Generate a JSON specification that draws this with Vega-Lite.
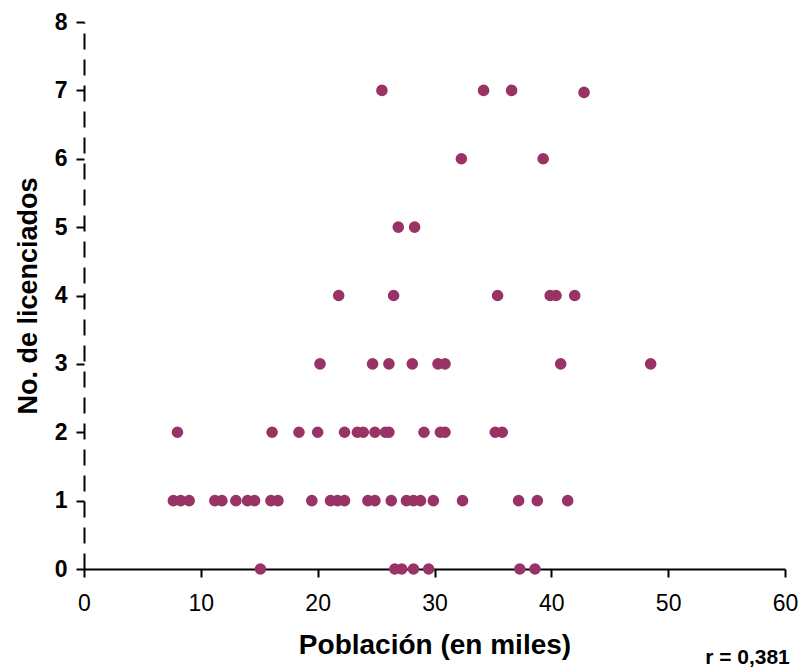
{
  "$schema": "https://vega.github.io/schema/vega-lite/v6.json",
  "width": 701,
  "height": 547,
  "autosize": {"type": "none"},
  "padding": {"left": 84, "top": 22, "right": 16, "bottom": 98},
  "background": "white",
  "config": {"view": {"stroke": null}, "font": "Liberation Sans"},
  "title": {"text": "r = 0,381", "orient": "bottom", "anchor": "end", "fontSize": 21, "fontWeight": "bold", "font": "Liberation Sans", "color": "black", "offset": -12, "dx": -8},
  "data": {"values": [
    {"pob": 25.5, "lic": 7}, {"pob": 34.2, "lic": 7}, {"pob": 36.6, "lic": 7}, {"pob": 42.8, "lic": 6.97},
    {"pob": 32.3, "lic": 6}, {"pob": 39.3, "lic": 6},
    {"pob": 26.9, "lic": 5}, {"pob": 28.3, "lic": 5},
    {"pob": 21.8, "lic": 4}, {"pob": 26.5, "lic": 4}, {"pob": 35.4, "lic": 4}, {"pob": 39.9, "lic": 4}, {"pob": 40.4, "lic": 4}, {"pob": 42.0, "lic": 4},
    {"pob": 20.2, "lic": 3}, {"pob": 24.7, "lic": 3}, {"pob": 26.1, "lic": 3}, {"pob": 28.1, "lic": 3}, {"pob": 30.3, "lic": 3}, {"pob": 30.9, "lic": 3}, {"pob": 40.8, "lic": 3}, {"pob": 48.5, "lic": 3},
    {"pob": 8.0, "lic": 2}, {"pob": 16.1, "lic": 2}, {"pob": 18.4, "lic": 2}, {"pob": 20.0, "lic": 2}, {"pob": 22.3, "lic": 2}, {"pob": 23.4, "lic": 2}, {"pob": 23.9, "lic": 2}, {"pob": 24.9, "lic": 2}, {"pob": 25.8, "lic": 2}, {"pob": 26.1, "lic": 2}, {"pob": 29.1, "lic": 2}, {"pob": 30.5, "lic": 2}, {"pob": 30.9, "lic": 2}, {"pob": 35.2, "lic": 2}, {"pob": 35.8, "lic": 2},
    {"pob": 7.65, "lic": 1}, {"pob": 8.28, "lic": 1}, {"pob": 9.0, "lic": 1}, {"pob": 11.2, "lic": 1}, {"pob": 11.8, "lic": 1}, {"pob": 13.0, "lic": 1}, {"pob": 14.0, "lic": 1}, {"pob": 14.6, "lic": 1}, {"pob": 16.0, "lic": 1}, {"pob": 16.6, "lic": 1},
    {"pob": 19.5, "lic": 1}, {"pob": 21.1, "lic": 1}, {"pob": 21.7, "lic": 1}, {"pob": 22.3, "lic": 1}, {"pob": 24.3, "lic": 1}, {"pob": 24.9, "lic": 1}, {"pob": 26.3, "lic": 1}, {"pob": 27.6, "lic": 1}, {"pob": 28.2, "lic": 1}, {"pob": 28.8, "lic": 1}, {"pob": 29.9, "lic": 1}, {"pob": 32.4, "lic": 1}, {"pob": 37.2, "lic": 1}, {"pob": 38.8, "lic": 1}, {"pob": 41.4, "lic": 1},
    {"pob": 15.1, "lic": 0}, {"pob": 26.6, "lic": 0}, {"pob": 27.2, "lic": 0}, {"pob": 28.2, "lic": 0}, {"pob": 29.5, "lic": 0}, {"pob": 37.3, "lic": 0}, {"pob": 38.6, "lic": 0}
  ]},
  "mark": {"type": "circle", "color": "#993366", "opacity": 1, "size": 135, "clip": false},
  "encoding": {
    "x": {"field": "pob", "type": "quantitative",
      "scale": {"domain": [0, 60], "nice": false, "zero": false},
      "axis": {"title": "Población (en miles)", "values": [0, 10, 20, 30, 40, 50, 60], "grid": false, "labelFlush": false, "labelOverlap": false,
        "domainColor": "black", "domainWidth": 2, "tickColor": "black", "tickWidth": 2, "tickSize": 8,
        "labelFontSize": 23, "labelColor": "black", "labelPadding": 15, "labelFont": "Liberation Sans",
        "titleFontSize": 28, "titleFontWeight": "bold", "titleColor": "black", "titlePadding": 16, "titleFont": "Liberation Sans"}},
    "y": {"field": "lic", "type": "quantitative",
      "scale": {"domain": [0, 8], "nice": false},
      "axis": {"title": "No. de licenciados", "values": [0, 1, 2, 3, 4, 5, 6, 7, 8], "grid": false, "labelFlush": false, "labelOverlap": false,
        "domainColor": "black", "domainWidth": 2, "domainDash": [16, 10], "tickColor": "black", "tickWidth": 2, "tickSize": 8,
        "labelFontSize": 23, "labelFontWeight": "bold", "labelColor": "black", "labelPadding": 9, "labelFont": "Liberation Sans",
        "titleFontSize": 27, "titleFontWeight": "bold", "titleColor": "black", "titlePadding": 12, "titleFont": "Liberation Sans"}}
  }
}
